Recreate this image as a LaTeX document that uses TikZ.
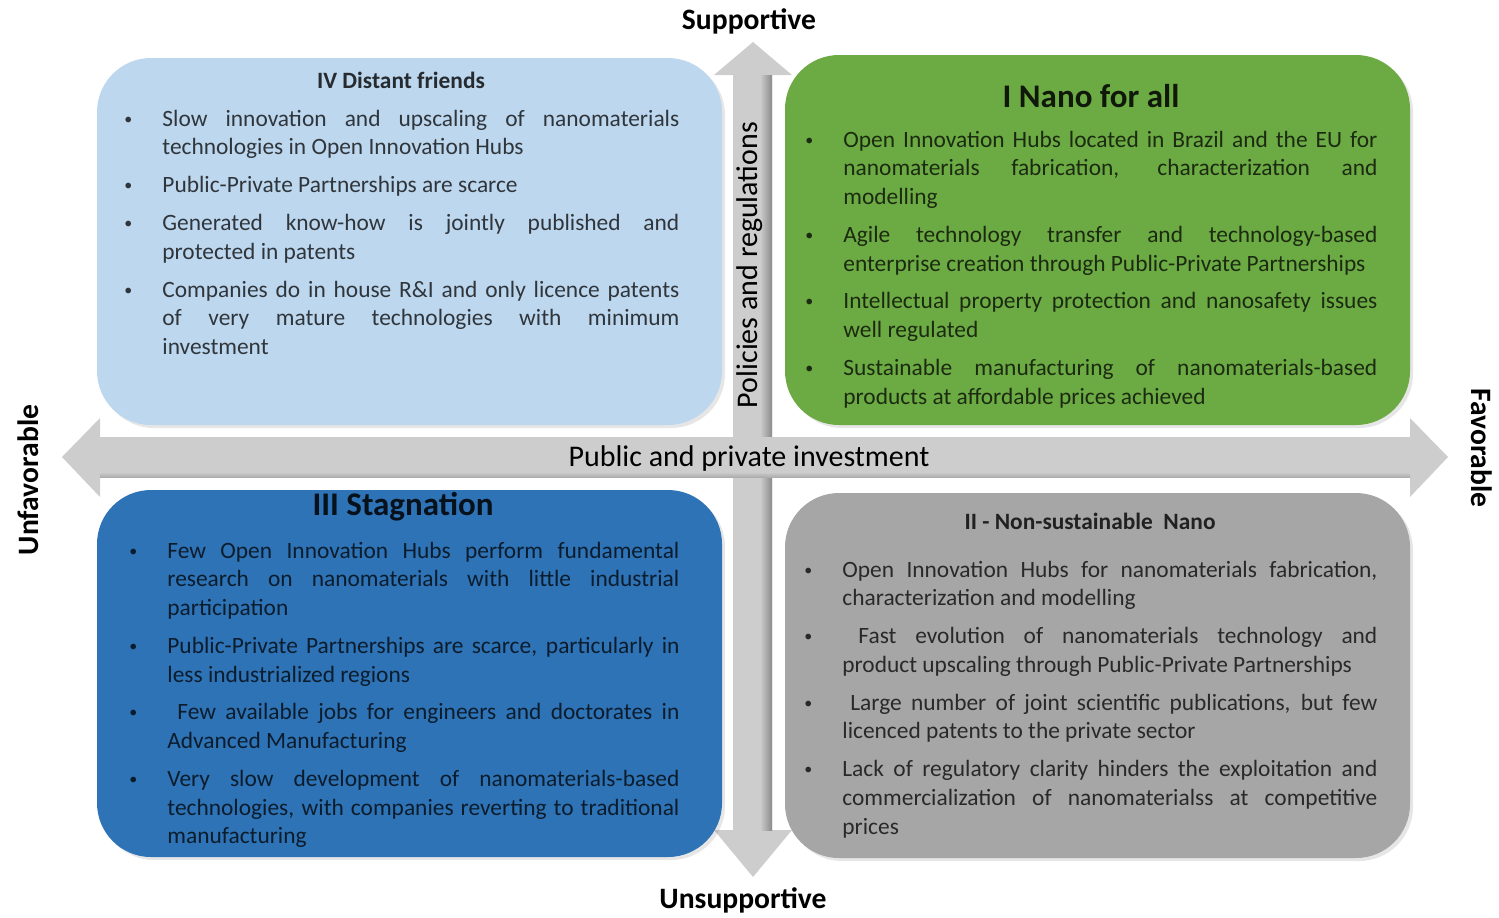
\documentclass[tikz,border=0pt]{standalone}
\usepackage{fontspec}
\setmainfont{Carlito}
\usetikzlibrary{shadows}

\definecolor{ivblue}{HTML}{BDD7EE}
\definecolor{igreen}{HTML}{6CAB43}
\definecolor{iiiblue}{HTML}{2E73B6}
\definecolor{iigray}{HTML}{A6A6A6}
\definecolor{axisgray}{HTML}{CDCDCD}
\definecolor{axisdark}{HTML}{8A8A8A}

\newcommand{\qitem}[1]{\noindent\llap{\raisebox{1pt}{\fontsize{8}{8}\selectfont\textbullet}\hspace{15pt}}#1\par}
\hbadness=10000

\begin{document}
\begin{tikzpicture}[x=0.5pt,y=-0.5pt,
  quadrant/.style={rounded corners=27pt,minimum width=312.5pt,inner sep=0pt,
    drop shadow={opacity=.2,shadow xshift=1.5pt,shadow yshift=-1.5pt}},
  quad title/.style={font=\bfseries\fontsize{11.7}{14}\selectfont,text opacity=.8},
  big title/.style={font=\bfseries\fontsize{16.5}{19}\selectfont,text opacity=.85},
  items/.style={align=justify,anchor=base west,inner sep=0pt,text opacity=.75,
    font=\fontsize{11.7}{14.35}\selectfont,
    execute at begin node={\setlength{\parskip}{4.6pt}}},
  axis label/.style={font=\bfseries\fontsize{14.8}{17}\selectfont},
  axis text/.style={font=\fontsize{15}{18}\selectfont}]
\useasboundingbox (0,0) rectangle (1499,917);

% axes
\fill[axisgray] (733,75) -- (714,75) -- (753,42) -- (792,75) -- (772,75)
  -- (772,830) -- (792,830) -- (753,877) -- (714,830) -- (733,830) -- cycle;
\shade[left color=axisgray,right color=axisdark] (760,75) rectangle (772,830);
\fill[axisgray] (100,437) -- (100,418) -- (62,457) -- (100,497) -- (100,477)
  -- (1410,477) -- (1410,497) -- (1448,457) -- (1410,418) -- (1410,437) -- cycle;
\shade[top color=axisgray,bottom color=axisdark!70] (100,472) rectangle (1410,477);

% quadrants
\node[quadrant,fill=ivblue,minimum height=183.5pt] (iv) at (409.5,241.5) {};
\node[quadrant,fill=igreen,minimum height=185pt] (i) at (1097.5,240) {};
\node[quadrant,fill=iiiblue,minimum height=183.5pt] (iii) at (409.5,673.5) {};
\node[quadrant,fill=iigray,minimum height=182.5pt] (ii) at (1097.5,675.5) {};

\node[quad title] (ivtitle) at (401,80) {IV Distant friends};
\node[items,text width=258.5pt] (ivtext) at (162,126) {%
  \qitem{Slow innovation and upscaling of nanomaterials\linebreak technologies in Open Innovation Hubs}
  \qitem{Public-Private Partnerships are scarce}
  \qitem{Generated know-how is jointly published and\linebreak protected in patents}
  \qitem{Companies do in house R\&I and only licence patents\linebreak of very mature technologies with minimum\linebreak investment}};

\node[big title] (ititle) at (1091,96) {I Nano for all};
\node[items,text width=267pt] (itext) at (843,147) {%
  \qitem{Open Innovation Hubs located in Brazil and the EU for\linebreak nanomaterials fabrication, characterization and\linebreak modelling}
  \qitem{Agile technology transfer and technology-based\linebreak enterprise creation through Public-Private Partnerships}
  \qitem{Intellectual property protection and nanosafety issues\linebreak well regulated}
  \qitem{Sustainable manufacturing of nanomaterials-based\linebreak products at affordable prices achieved}};

\node[big title] (iiititle) at (403,507) {III Stagnation};
\node[items,text width=256pt] (iiitext) at (167,558) {%
  \qitem{Few Open Innovation Hubs perform fundamental\linebreak research on nanomaterials with little industrial\linebreak participation}
  \qitem{Public-Private Partnerships are scarce, particularly in\linebreak less industrialized regions}
  \qitem{\hspace{5pt}Few available jobs for engineers and doctorates in\linebreak Advanced Manufacturing}
  \qitem{Very slow development of nanomaterials-based\linebreak technologies, with companies reverting to traditional\linebreak manufacturing}};

\node[quad title] (iititle) at (1090,521) {II - Non-sustainable\ \ Nano};
\node[items,text width=267.5pt] (iitext) at (842,577) {%
  \qitem{Open Innovation Hubs for nanomaterials fabrication,\linebreak characterization and modelling}
  \qitem{\hspace{8pt}Fast evolution of nanomaterials technology and\linebreak product upscaling through Public-Private Partnerships}
  \qitem{\hspace{4pt}Large number of joint scientific publications, but few\linebreak licenced patents to the private sector}
  \qitem{Lack of regulatory clarity hinders the exploitation and\linebreak commercialization of nanomaterialss at competitive\linebreak prices}};

% axis labels
\node[axis text,rotate=90] (policy) at (750,265) {Policies and regulations};
\node[axis text] (invest) at (749,458) {Public and private investment};
\node[axis label] (sup) at (749,21) {Supportive};
\node[axis label] (unsup) at (743,900) {Unsupportive};
\node[axis label,rotate=90] (unfav) at (28,480) {Unfavorable};
\node[axis label,rotate=-90] (fav) at (1482,448) {Favorable};
\end{tikzpicture}
\end{document}
